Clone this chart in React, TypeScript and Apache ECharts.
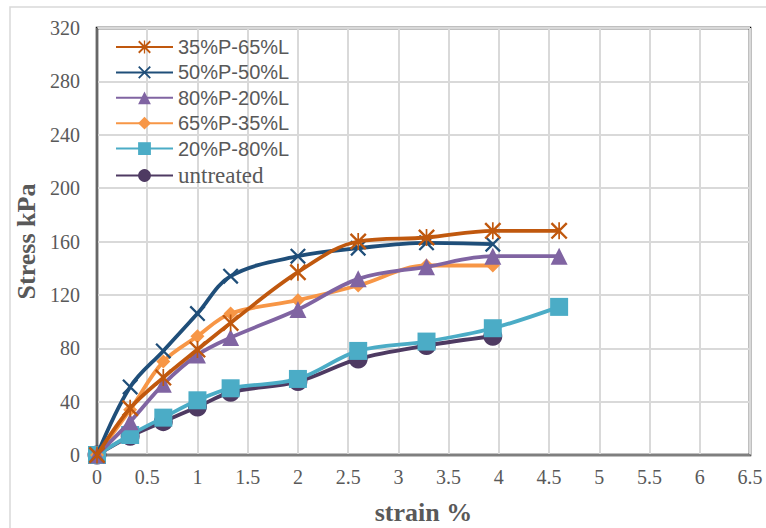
import React, { useEffect, useRef } from "react";
import * as echarts from "echarts";

const strain = [0, 0.33, 0.66, 1.0, 1.33, 2.0, 2.6, 3.28, 3.94, 4.6];

const seriesNames = ["35%P-65%L", "50%P-50%L", "80%P-20%L", "65%P-35%L", "20%P-80%L", "untreated"];

const s35P65L = [0, 35, 58, 79, 99, 137, 160, 163, 168, 168];
const s50P50L = [0, 51, 78, 106, 134, 149, 155, 159, 158];
const s80P20L = [0, 25, 53, 75, 88, 109, 132, 141, 149, 149];
const s65P35L = [0, 34, 70, 89, 106, 116, 127, 142, 142];
const s20P80L = [0, 15, 28, 41, 50, 57, 78, 85, 95, 111];
const untreated = [0, 14, 25, 36, 47, 55, 72, 82, 89];

const xTicks = { min: 0, max: 6.5, interval: 0.5 };
const yTicks = { min: 0, max: 320, interval: 40 };

const colors = ["#C0580E", "#1F4E79", "#8064A2", "#F79646", "#4BACC6", "#4E3A62"];

const XPATH = "path://M0,1 L1,0 L10,9 L9,10 Z M9,0 L10,1 L1,10 L0,9 Z";
const STARPATH = "path://M0,1 L1,0 L10,9 L9,10 Z M9,0 L10,1 L1,10 L0,9 Z M4.5,0 L5.5,0 L5.5,10 L4.5,10 Z";

const symbols = [STARPATH, XPATH, "triangle", "diamond", "rect", "circle"];
const symbolSizes = [17, 16, 17, 14, 18, 19];

function pair(vals: number[]) {
  return vals.map((v, i) => [strain[i], v]);
}

export default function App() {
  const ref = useRef<HTMLDivElement>(null);
  useEffect(() => {
    if (!ref.current) return;
    const chart = echarts.init(ref.current, null, { renderer: "svg" });
    const data = [s35P65L, s50P50L, s80P20L, s65P35L, s20P80L, untreated];
    const series = data.map((d, i) => ({
      name: seriesNames[i],
      type: "line",
      data: pair(d),
      smooth: 0.35,
      symbol: symbols[i],
      symbolSize: symbolSizes[i],
      showAllSymbol: true,
      z: 10 - i,
      lineStyle: { color: colors[i], width: 3.8 },
      itemStyle: { color: colors[i] },
    }));
    chart.setOption({
      animation: false,
      backgroundColor: "#ffffff",
      graphic: [
        {
          type: "rect",
          shape: { x: 10, y: 7, width: 800, height: 540 },
          style: { fill: "none", stroke: "#d9d9d9", lineWidth: 1.5 },
          z: -1,
        },
      ],
      grid: {
        left: 97,
        top: 28,
        right: 16,
        bottom: 73,
        containLabel: false,
        outerBoundsMode: "none",
        show: true,
        borderColor: "#000000",
        borderWidth: 2.5,
        backgroundColor: "transparent",
      },
      legend: {
        left: 110,
        top: 32,
        orient: "vertical",
        itemGap: 5.4,
        itemWidth: 57,
        itemHeight: 16,
        data: seriesNames,
        formatter: (n: string) => (n === "untreated" ? `{serif|${n}}` : `{sans|${n}}`),
        textStyle: {
          rich: {
            sans: { fontFamily: "Liberation Sans", fontSize: 20, lineHeight: 20, color: "#595959" },
            serif: { fontFamily: "Liberation Serif", fontSize: 23, lineHeight: 20, color: "#595959" },
          },
        },
      },
      xAxis: {
        type: "value",
        min: xTicks.min,
        max: xTicks.max,
        interval: xTicks.interval,
        name: "strain %",
        nameLocation: "middle",
        nameGap: 44,
        nameTextStyle: { fontFamily: "Liberation Serif", fontWeight: "bold", fontSize: 26, color: "#595959" },
        axisLine: { show: true, lineStyle: { color: "#7f7f7f", width: 2 } },
        axisTick: { show: false },
        axisLabel: { fontFamily: "Liberation Serif", fontSize: 20, color: "#595959", margin: 12 },
        splitLine: { show: true, lineStyle: { color: "#d9d9d9", width: 2 } },
      },
      yAxis: {
        type: "value",
        min: yTicks.min,
        max: yTicks.max,
        interval: yTicks.interval,
        name: "Stress kPa",
        nameLocation: "middle",
        nameGap: 51,
        nameTextStyle: { fontFamily: "Liberation Serif", fontWeight: "bold", fontSize: 26, color: "#595959" },
        axisLine: { show: true, lineStyle: { color: "#404040", width: 1.5 } },
        axisTick: { show: false },
        axisLabel: { fontFamily: "Liberation Serif", fontSize: 20, color: "#595959", margin: 17 },
        splitLine: { show: true, lineStyle: { color: "#d9d9d9", width: 2 } },
      },
      series,
    });
    return () => chart.dispose();
  }, []);
  return (
    <div
      ref={ref}
      style={{ position: "absolute", left: 0, top: 0, width: 766, height: 528 }}
    />
  );
}
